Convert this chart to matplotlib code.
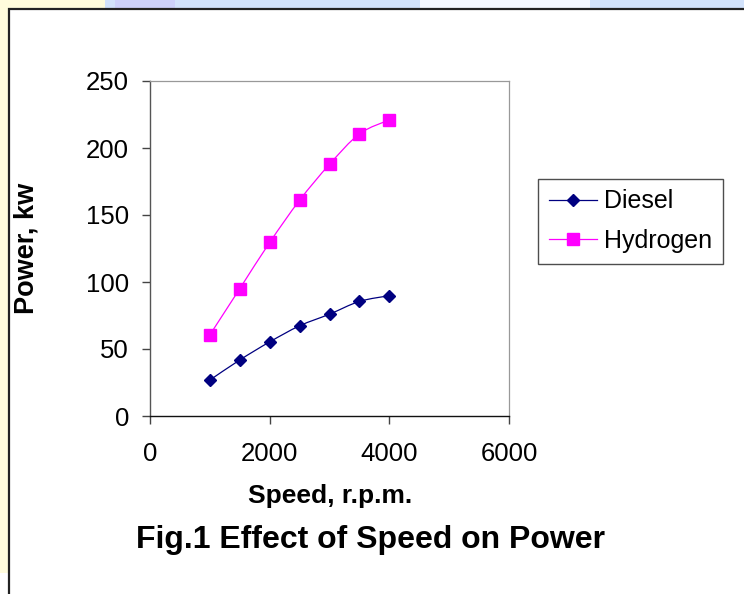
import numpy as np
import matplotlib
matplotlib.use("Agg")
import matplotlib.pyplot as plt
from matplotlib.path import Path
from matplotlib.patches import PathPatch, Rectangle
from matplotlib.lines import Line2D

plt.rcParams['font.family'] = ['Liberation Sans', 'DejaVu Sans']

# data
speed = [1000, 1500, 2000, 2500, 3000, 3500, 4000]
diesel = [26.8, 41.8, 55.3, 67.3, 76.0, 85.5, 89.8]
hydrogen = [60.5, 95.0, 129.5, 161.0, 187.8, 210.5, 221.0]
series_names = ['Diesel', 'Hydrogen']
x_ticks = [0, 2000, 4000, 6000]
y_ticks = [0, 50, 100, 150, 200, 250]

W, H = 744, 594


def fx(px):
    return px / W


def fy(py):
    return 1 - py / H


def smooth_path(xs, ys):
    """Excel-style smoothed line through the points (cubic Bezier segments)."""
    pts = np.column_stack([xs, ys]).astype(float)
    ext = np.vstack([pts[0], pts, pts[-1]])
    verts = [pts[0]]
    codes = [Path.MOVETO]
    for i in range(len(pts) - 1):
        p0, p1, p2, p3 = ext[i], ext[i + 1], ext[i + 2], ext[i + 3]
        c1 = p1 + (p2 - p0) / 6.0
        c2 = p2 - (p3 - p1) / 6.0
        verts += [c1, c2, p2]
        codes += [Path.CURVE4] * 3
    return Path(verts, codes)


fig = plt.figure(figsize=(W / 100, H / 100), dpi=100)
fig.patch.set_facecolor('white')

# decorative slide background: top strip and left strip
bg = [
    ((0, 9), (744, 9), '#d2e2fb'),
    ((115, 9), (60, 9), '#cdd1fa'),
    ((420, 9), (170, 9), '#f4f8ff'),
    ((0, 9), (105, 9), '#fffcdc'),
    ((0, 573), (8, 573), '#fffcdc'),
]
for (x0, y0), (w, h), col in bg:
    fig.patches.append(Rectangle((fx(x0), fy(y0)), fx(w), h / H, transform=fig.transFigure,
                                 facecolor=col, edgecolor='none', zorder=0))
# outer chart frame
fig.patches.append(Rectangle((fx(8.5), -0.1), 1.2, fy(9.5) + 0.1, transform=fig.transFigure,
                             facecolor='white', edgecolor='#222222', linewidth=1.6, zorder=0))

ax = fig.add_axes([fx(150), fy(416), fx(509) - fx(150), fy(81) - fy(416)])
ax.set_zorder(2)
ax.set_xlim(0, 6000)
ax.set_ylim(0, 250)
ax.set_xticks(x_ticks)
ax.set_yticks(y_ticks)
ax.tick_params(axis='both', labelsize=18.5, direction='out', length=6, width=1, color='#444444')
ax.tick_params(axis='x', pad=13)
ax.tick_params(axis='y', pad=9)
for side in ['top', 'right']:
    ax.spines[side].set_color('#999999')
    ax.spines[side].set_linewidth(0.9)
ax.spines['left'].set_color('#555555')
ax.spines['bottom'].set_color('#111111')
for side in ['left', 'bottom']:
    ax.spines[side].set_linewidth(1.0)

colors = ['#000080', '#ff00ff']
markers = ['D', 's']
sizes = [6.4, 8.5]
for ys, c, m, ms in zip([diesel, hydrogen], colors, markers, sizes):
    ax.add_patch(PathPatch(smooth_path(speed, ys), facecolor='none', edgecolor=c, linewidth=0.9))
    ax.plot(speed, ys, linestyle='none', marker=m, markersize=ms, color=c,
            markeredgecolor=c, clip_on=False, zorder=3)

handles = [Line2D([], [], color=c, linewidth=0.9, marker=m, markersize=ms)
           for c, m, ms in zip(colors, markers, sizes)]
leg = fig.legend(handles, series_names, loc='upper left',
                 bbox_to_anchor=(fx(538), fy(179)), bbox_transform=fig.transFigure,
                 fontsize=18, frameon=True, fancybox=False, handlelength=1.95,
                 handletextpad=0.28, borderpad=0.42, labelspacing=0.62,
                 borderaxespad=0)
leg.get_frame().set_edgecolor('#222222')
leg.get_frame().set_linewidth(1.0)
leg.set_zorder(3)

fig.text(fx(330), fy(496), 'Speed, r.p.m.', ha='center', va='center',
         fontsize=19, fontweight='bold')
fig.text(fx(27), fy(248), 'Power, kw', ha='center', va='center', rotation=90,
         fontsize=19.5, fontweight='bold')
fig.text(fx(370), fy(540), 'Fig.1 Effect of Speed on Power', ha='center', va='center',
         fontsize=23, fontweight='bold')

fig.savefig('out.png', dpi=100)
